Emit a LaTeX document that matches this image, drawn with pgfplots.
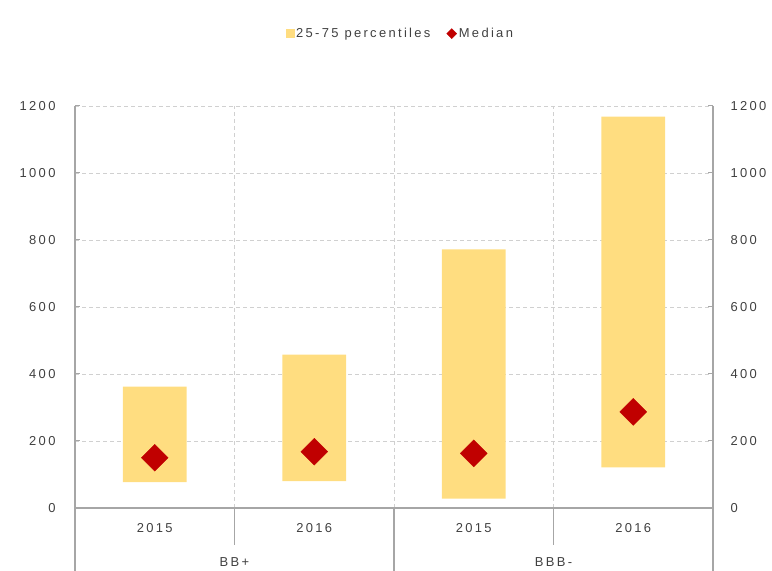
\documentclass[border=0pt]{standalone}
\usepackage{fontspec}
\setmainfont{Liberation Sans}[LetterSpace=18]
\usepackage{pgfplots}
\pgfplotsset{compat=1.18}
\definecolor{barfill}{HTML}{FFDD80}
\definecolor{medred}{HTML}{C00000}
\definecolor{axgray}{HTML}{A6A6A6}
\definecolor{gridgray}{HTML}{D0D0D0}
\definecolor{txtgray}{HTML}{404040}
\newcommand{\lblfont}{\fontsize{13}{15}\selectfont}
\pgfplotsset{base/.style={
  scale only axis, width=638bp, height=402bp,
  at={(75bp,63bp)}, anchor=south west,
  xmin=-0.5, xmax=3.5, ymin=0, ymax=1200,
  ytick={0,200,...,1200},
  tick align=inside, major tick length=5bp,
  y tick style={axgray, line width=1bp},
  axis line style={axgray, line width=1.5bp},
  ticklabel style={font=\lblfont, text=txtgray},
  /pgf/number format/assume math mode=true,
  /pgf/number format/1000 sep={},
  scaled y ticks=false,
  clip=false,
}}
\begin{document}
\begin{tikzpicture}
\begin{axis}[base,
  axis y line*=left, axis x line*=bottom,
  ybar stacked, bar width=0.4,
  xtick={0,1,2,3}, xticklabels={2015,2016,2015,2016},
  x tick style={draw=none},
  xticklabel style={anchor=center, yshift=-20bp},
  yticklabel style={xshift=-16bp},
  minor xtick={0.5,1.5,2.5}, minor tick length=0pt,
  xminorgrids=true, ymajorgrids=true,
  minor x grid style={gridgray, line width=0.8bp, dash pattern=on 4bp off 3bp},
  major y grid style={gridgray, line width=0.8bp, dash pattern=on 4bp off 3bp},
]
\addplot[draw=none, fill=none] coordinates {(0,77) (1,80) (2,28) (3,121)};
\addplot[draw=none, fill=barfill] coordinates {(0,285) (1,378) (2,744) (3,1047)};
\draw[axgray, line width=1.5bp] (axis cs:-0.5,0) -- ++(0bp,-63bp);
\draw[axgray, line width=1.5bp] (axis cs:3.5,0) -- ++(0bp,-63bp);
\draw[axgray, line width=1.5bp] (axis cs:1.5,0) -- ++(0bp,-63bp);
\draw[axgray, line width=1.2bp] (axis cs:0.5,0) -- ++(0bp,-37bp);
\draw[axgray, line width=1.2bp] (axis cs:2.5,0) -- ++(0bp,-37bp);
\node[font=\lblfont, text=txtgray, yshift=-54bp] at (axis cs:0.5,0) {BB+};
\node[font=\lblfont, text=txtgray, yshift=-54bp] at (axis cs:2.5,0) {BBB-};
\end{axis}
\begin{axis}[base,
  axis y line*=right, axis x line=none,
  xtick=\empty,
  yticklabel style={xshift=14bp},
  legend style={at={(0.51,1.18)}, anchor=center, draw=none, fill=none,
    font=\lblfont, text=txtgray, legend columns=2,
    /tikz/every even column/.style={column sep=14bp}},
]
\addlegendimage{legend image code/.code={\fill[barfill] (-2bp,-4bp) rectangle (6bp,4bp);}}
\addlegendentry{25-75 percentiles}
\addplot[only marks, mark=square*, color=medred, mark options={rotate=45, draw=none, fill=medred}, mark size=9.5bp,
  legend image code/.code={\fill[medred] (2bp,-5bp) -- (7bp,0bp) -- (2bp,5bp) -- (-3bp,0bp) -- cycle;}]
  coordinates {(0,150) (1,168) (2,163) (3,287)};
\addlegendentry{Median}
\end{axis}
\pgfresetboundingbox
\useasboundingbox (0,0) rectangle (772bp,571bp);
\end{tikzpicture}
\end{document}
